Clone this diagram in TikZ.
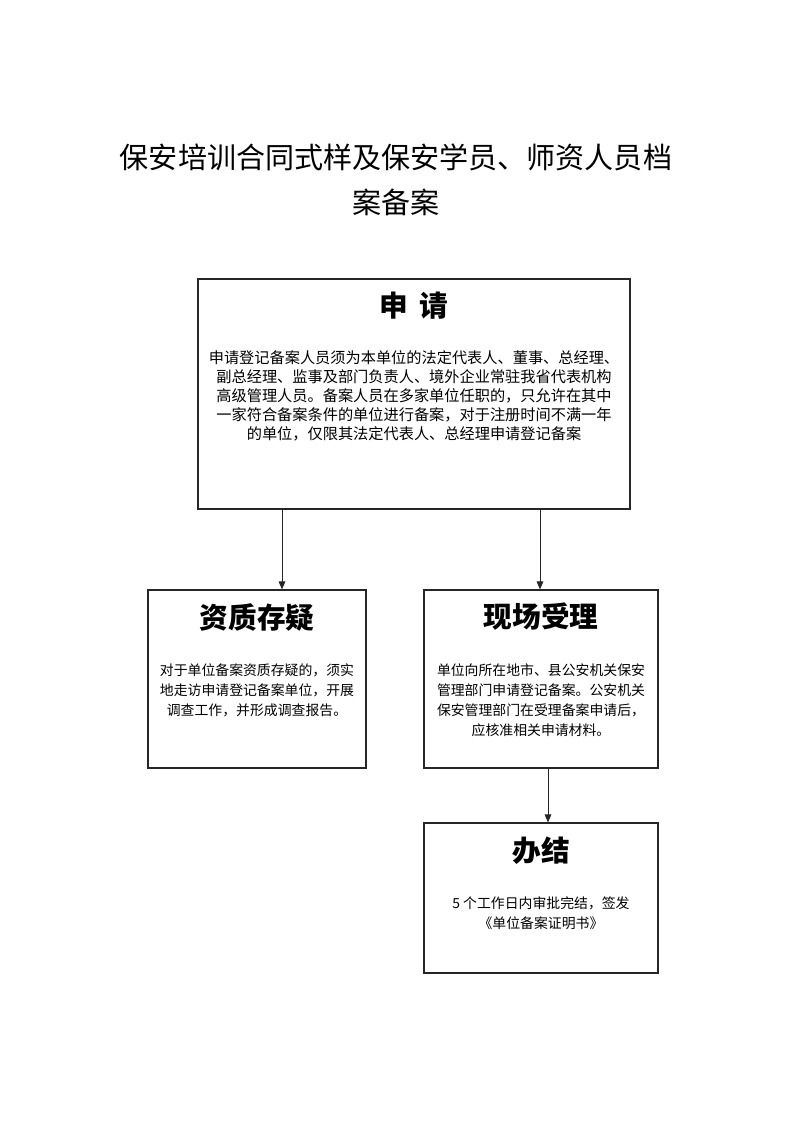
\documentclass[tikz,border=0pt]{standalone}
\usepackage{fontspec}
\setmainfont{Noto Sans CJK SC}
\usepackage{tikz}
\usetikzlibrary{positioning, calc, arrows.meta}
\tikzset{
	box/.style={draw=black!85, line width=0.9pt, rectangle, inner sep=0pt},
	arrow/.style={line width=0.7pt, draw=black!85, -{Triangle[length=6pt, width=5pt]}},
	head/.style={font=\bfseries\fontsize{21.5}{26}\selectfont},
	body/.style={align=center, inner sep=0pt, font=\fontsize{11.4}{14.25}\selectfont},
	small body/.style={body, font=\fontsize{10.4}{15}\selectfont},
}

\begin{document}
\begin{tikzpicture}[x=0.75pt, y=-0.75pt]
	\useasboundingbox (0,0) rectangle (793,1122);
	% title
	\node[align=center, font=\fontsize{21.8}{33.75}\selectfont] (title) at (396,180) {保安培训合同式样及保安学员、师资人员档\\案备案};

	% apply
	\node[box, minimum width=324pt, minimum height=172.5pt] (apply) at (414,394) {};
	\node[head] (applylbl) at (414,306) {申\hspace{0.4em}请};
	\node[body] (applytxt) at (414,396) {申请登记备案人员须为本单位的法定代表人、董事、总经理、\\副总经理、监事及部门负责人、境外企业常驻我省代表机构\\高级管理人员。备案人员在多家单位任职的，只允许在其中\\一家符合备案条件的单位进行备案，对于注册时间不满一年\\的单位，仅限其法定代表人、总经理申请登记备案};

	% doubt
	\node[box, minimum width=163.5pt, minimum height=133.5pt] (doubt) at (257,679) {};
	\node[head] (doubtlbl) at (257,617) {资质存疑};
	\node[small body] (doubttxt) at (257,690) {对于单位备案资质存疑的，须实\\地走访申请登记备案单位，开展\\调查工作，并形成调查报告。};

	% accept
	\node[box, minimum width=175.5pt, minimum height=133.5pt] (accept) at (541,679) {};
	\node[head] (acceptlbl) at (541,617) {现场受理};
	\node[small body] (accepttxt) at (541,700) {单位向所在地市、县公安机关保安\\管理部门申请登记备案。公安机关\\保安管理部门在受理备案申请后，\\应核准相关申请材料。};

	% finish
	\node[box, minimum width=175.5pt, minimum height=112.5pt] (finish) at (541,898) {};
	\node[head] (finishlbl) at (541,851) {办结};
	\node[small body] (finishtxt) at (541,913) {5 个工作日内审批完结，签发\\《单位备案证明书》};

	\coordinate (out1) at (282,509);
	\coordinate (out2) at (540,509);
	\coordinate (out3) at (548,768);
	\draw[arrow] (out1) -- (out1 |- doubt.north);
	\draw[arrow] (out2) -- (out2 |- accept.north);
	\draw[arrow] (out3) -- (out3 |- finish.north);
\end{tikzpicture}
\end{document}
